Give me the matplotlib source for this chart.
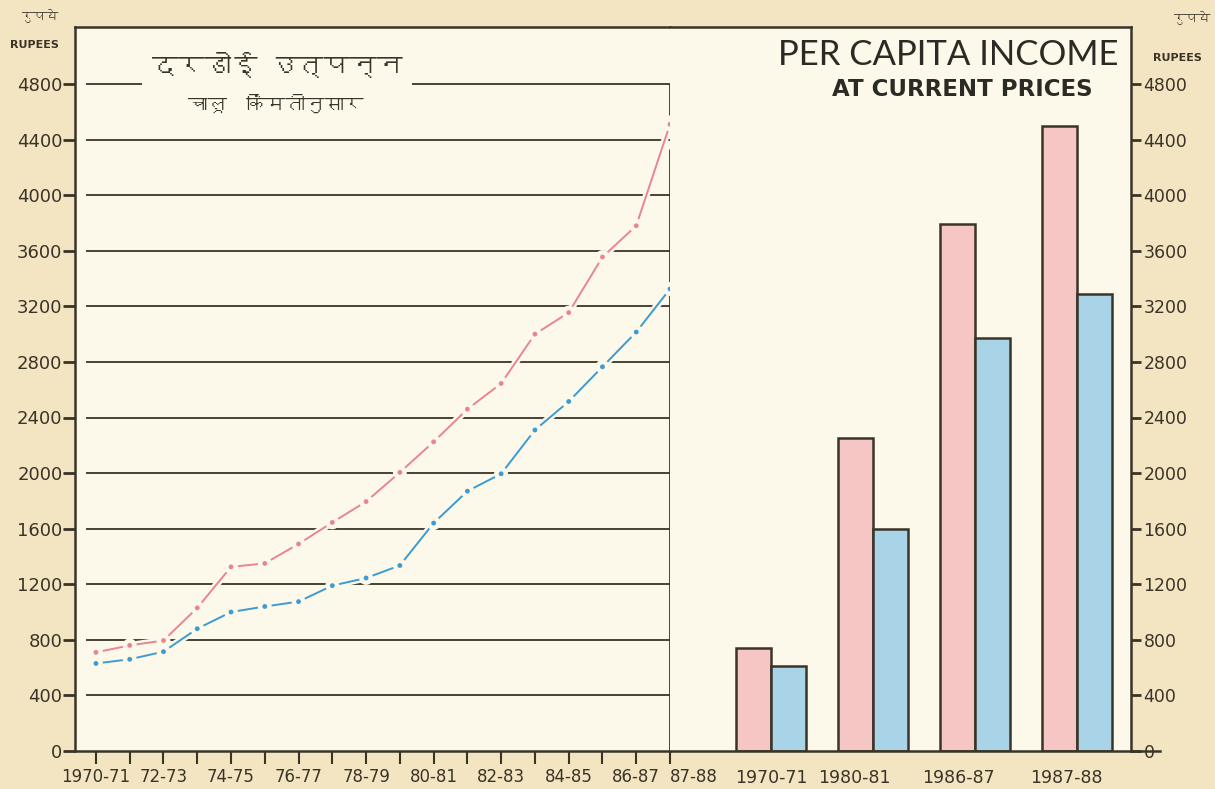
import matplotlib
matplotlib.use('Agg')
import matplotlib.pyplot as plt
import matplotlib.patheffects as pe
from matplotlib import font_manager as fm
from matplotlib.ft2font import FT2Font
from matplotlib.lines import Line2D
import numpy as np

# line chart: every year 1970-71 .. 1987-88
years = ['1970-71', '71-72', '72-73', '73-74', '74-75', '75-76', '76-77', '77-78', '78-79',
         '79-80', '80-81', '81-82', '82-83', '83-84', '84-85', '85-86', '86-87', '87-88']
year_labels = ['1970-71', '', '72-73', '', '74-75', '', '76-77', '', '78-79',
               '', '80-81', '', '82-83', '', '84-85', '', '86-87', '87-88']
red_line = [710, 760, 795, 1030, 1325, 1350, 1490, 1645, 1795, 2005, 2225, 2460, 2645,
            3000, 3155, 3555, 3780, 4510]
blue_line = [630, 660, 715, 880, 1000, 1040, 1075, 1190, 1245, 1335, 1640, 1870, 1995,
             2310, 2515, 2765, 3015, 3325]

# bar chart: selected years
bar_years = ['1970-71', '1980-81', '1986-87', '1987-88']
red_bars = [740, 2250, 3790, 4500]
blue_bars = [615, 1600, 2970, 3290]

y_ticks = list(range(0, 4801, 400))

PAPER = '#f4e5c2'
INNER = '#fcf9ea'
INK = '#3a3428'
PINK = '#e98590'
BLUE = '#3b9bd2'
PINK_BAR = '#f5c6c4'
BLUE_BAR = '#a9d3e6'


def devanagari_fonts():
    """Find installed families that have Devanagari glyphs."""
    found = []
    for f in fm.fontManager.ttflist:
        if f.name in found:
            continue
        try:
            cmap = FT2Font(f.fname).get_charmap()
        except Exception:
            continue
        if 0x0926 in cmap:
            found.append(f.name)
    return found


deva = devanagari_fonts()
deva_family = deva[:1] + ['DejaVu Sans']

W, H = 1215, 789
fig = plt.figure(figsize=(W / 100, H / 100), dpi=100, facecolor=PAPER)


def fx(px):
    return px / W


def fy(py):
    return (H - py) / H


bottom = fy(751)
height = fy(27) - bottom
ytop = 4800 / (751 - 84) * (751 - 27)

ax = fig.add_axes([fx(75), bottom, fx(670) - fx(75), height], facecolor=INNER)
bx = fig.add_axes([fx(670), bottom, fx(1131) - fx(670), height], facecolor=INNER)

# ---- line chart ----
x = np.arange(len(years))
ax.set_xlim(-0.62, len(years) - 1)
ax.set_ylim(0, ytop)
ax.hlines(y_ticks[1:], -0.3, len(years) - 1, color=INK, lw=1.3, zorder=1)
ax.vlines(len(years) - 1, 0, 4330, color=INK, lw=2, zorder=1)
ax.vlines(len(years) - 1, 4575, 4800, color=INK, lw=2, zorder=1)

halo = [pe.Stroke(linewidth=5, foreground=INNER), pe.Normal()]
ax.plot(x, red_line, color=PINK, lw=1.4, marker='o', ms=5, mfc=PINK, mec=INNER, mew=1.5,
        path_effects=halo, zorder=3)
ax.plot(x, blue_line, color=BLUE, lw=1.4, marker='o', ms=5, mfc=BLUE, mec=INNER, mew=1.5,
        path_effects=halo, zorder=3)

for s in ['left', 'top', 'bottom']:
    ax.spines[s].set_color(INK)
    ax.spines[s].set_linewidth(1.8)
ax.spines['right'].set_visible(False)

ax.set_xticks(x)
ax.set_xticklabels(year_labels, fontsize=12, color=INK)
ax.tick_params(axis='x', direction='out', length=9, width=1.5, color=INK, pad=3)
last = ax.xaxis.get_ticklabels()[-1]
last.set_horizontalalignment('left')
ax.set_yticks(y_ticks)
ax.set_yticklabels([str(v) for v in y_ticks], fontsize=13, color=INK)
ax.tick_params(axis='y', direction='out', length=9, width=2, color=INK, pad=0)

# ---- bar chart ----
bx.set_xlim(-0.99, 3.53)
bx.set_ylim(0, ytop)
bw = 0.345
xb = np.arange(len(bar_years))
bx.bar(xb - bw / 2, red_bars, bw, color=PINK_BAR, edgecolor=INK, linewidth=1.8, zorder=2)
bx.bar(xb + bw / 2, blue_bars, bw, color=BLUE_BAR, edgecolor=INK, linewidth=1.8, zorder=2)

for s in ['right', 'top', 'bottom']:
    bx.spines[s].set_color(INK)
    bx.spines[s].set_linewidth(1.8)
bx.spines['left'].set_visible(False)

bx.set_xticks(xb - np.array([0.0, 0.18, 0.16, 0.1]))
bx.set_xticklabels(bar_years, fontsize=12.5, color=INK)
bx.tick_params(axis='x', length=0, pad=13)
bx.yaxis.tick_right()
bx.set_yticks(y_ticks)
bx.set_yticklabels([str(v) for v in y_ticks], fontsize=12.5, color=INK)
bx.tick_params(axis='y', direction='out', length=7, width=2, color=INK, pad=2)

# bottom rule runs a little past the right axis
fig.add_artist(Line2D([fx(1131), fx(1160)], [bottom, bottom], color=INK, lw=1.8,
                      transform=fig.transFigure))

# ---- titles ----
fig.text(fx(277), fy(65), 'दरडोई उत्पन्न', family=deva_family, fontsize=19,
         fontweight='bold', color=INK, ha='center', va='center',
         bbox=dict(boxstyle='square,pad=0.35', fc=INNER, ec='none'), zorder=5)
fig.text(fx(276), fy(103), 'चालू  किंमतीनुसार', family=deva_family, fontsize=14,
         color=INK, ha='center', va='center')
fig.text(fx(1118), fy(55), 'PER CAPITA INCOME', family=['Lato', 'DejaVu Sans'],
         fontsize=25, color='#2c2a24', ha='right', va='center')
fig.text(fx(1093), fy(90), 'AT CURRENT PRICES', fontsize=16.5, fontweight='bold',
         color='#2c2a24', ha='right', va='center')

fig.text(fx(40), fy(16), 'रुपये', family=deva_family, fontsize=9, color=INK,
         ha='center', va='center')
fig.text(fx(34), fy(45), 'RUPEES', fontsize=8, fontweight='bold', color=INK,
         ha='center', va='center')
fig.text(fx(1192), fy(18), 'रुपये', family=deva_family, fontsize=9, color=INK,
         ha='center', va='center')
fig.text(fx(1177), fy(58), 'RUPEES', fontsize=8, fontweight='bold', color=INK,
         ha='center', va='center')

fig.savefig('out.png', dpi=100, facecolor=fig.get_facecolor())
